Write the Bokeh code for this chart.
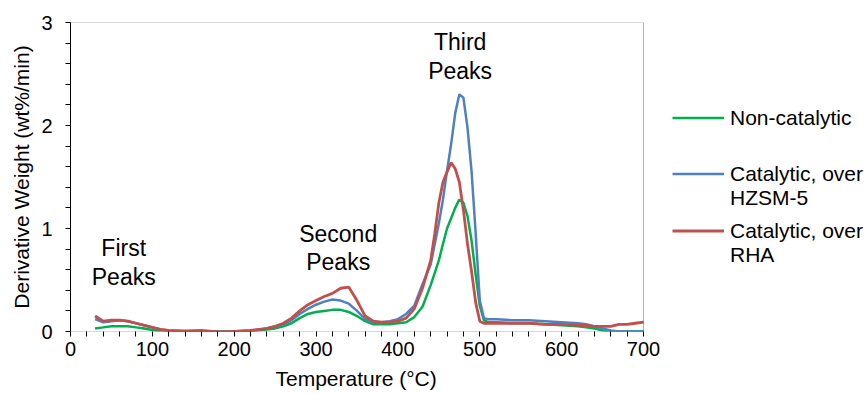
from bokeh.plotting import figure
from bokeh.models import Legend, LegendItem, FixedTicker, Label, Range1d, BoxAnnotation, Title
from bokeh.embed import file_html
from bokeh.resources import INLINE

# ---- data ----
temperature = [30, 40, 50, 60, 70, 80, 90, 100, 110, 120,
               140, 160, 180, 200, 220, 240,
               250, 260, 270, 280, 290, 300, 310, 320, 330, 340,
               350, 360, 370, 380, 390, 400, 410, 420, 430, 440,
               445, 450, 455, 460, 465, 470, 475, 480, 485, 490, 495, 500, 505, 510,
               520, 540, 560, 580, 600, 620,
               630, 640, 650, 660, 670, 680, 690, 700]

non_catalytic = [0.03, 0.04, 0.05, 0.05, 0.05, 0.04, 0.03, 0.015, 0.005, 0.0,
                 0.0, 0.0, 0.0, 0.0, 0.005, 0.02,
                 0.03, 0.05, 0.08, 0.13, 0.17, 0.19, 0.20, 0.21, 0.21, 0.19,
                 0.15, 0.10, 0.07, 0.07, 0.07, 0.08, 0.09, 0.14, 0.24, 0.45,
                 0.57, 0.69, 0.85, 1.00, 1.10, 1.20, 1.28, 1.25, 1.12, 0.88, 0.55, 0.25, 0.11, 0.09,
                 0.09, 0.08, 0.08, 0.07, 0.06, 0.05,
                 0.04, 0.03, 0.01, 0.0, 0.0, 0.0, 0.0, 0.0]

hzsm5 = [0.12, 0.09, 0.10, 0.11, 0.10, 0.08, 0.06, 0.04, 0.02, 0.01,
         0.0, 0.0, 0.0, 0.0, 0.01, 0.03,
         0.05, 0.07, 0.11, 0.17, 0.22, 0.26, 0.29, 0.31, 0.30, 0.27,
         0.20, 0.12, 0.09, 0.09, 0.10, 0.12, 0.17, 0.25, 0.46, 0.65,
         0.85, 1.05, 1.28, 1.56, 1.82, 2.12, 2.30, 2.27, 1.98, 1.55, 0.95, 0.30, 0.13, 0.12,
         0.12, 0.11, 0.11, 0.10, 0.09, 0.08,
         0.07, 0.05, 0.03, 0.01, 0.0, 0.0, 0.0, 0.0]

rha = [0.15, 0.10, 0.11, 0.11, 0.10, 0.08, 0.06, 0.04, 0.02, 0.01,
       0.005, 0.01, -0.005, 0.0, 0.01, 0.03,
       0.05, 0.08, 0.13, 0.20, 0.26, 0.30, 0.34, 0.37, 0.42, 0.43,
       0.30, 0.15, 0.10, 0.09, 0.09, 0.10, 0.13, 0.22, 0.42, 0.69,
       0.95, 1.25, 1.45, 1.55, 1.64, 1.58, 1.45, 1.18, 0.85, 0.58, 0.28, 0.10, 0.08, 0.08,
       0.08, 0.08, 0.08, 0.07, 0.07, 0.06,
       0.06, 0.05, 0.05, 0.05, 0.07, 0.07, 0.08, 0.09]

x_ticks = [0, 100, 200, 300, 400, 500, 600, 700]
y_ticks = [0, 1, 2, 3]
X_MAX, Y_MAX = 700, 3

FONT = "Liberation Sans"
GREEN = "#00B050"
BLUE = "#4F81BD"
RED = "#C0504D"

PLOT_W = 573          # width of the boxed plot area (0..700)
LEGEND_W = 222        # room to the right of the box for the legend
FRAME_W = PLOT_W + LEGEND_W
FRAME_H = 309

p = figure(frame_width=FRAME_W, frame_height=FRAME_H,
           x_range=Range1d(0, X_MAX * FRAME_W / PLOT_W), y_range=Range1d(0, Y_MAX),
           output_backend="svg", toolbar_location=None,
           min_border_left=70, min_border_top=22, min_border_bottom=10,
           min_border_right=0)
p.background_fill_color = "white"
p.border_fill_color = "white"
p.outline_line_color = None
p.xgrid.visible = False
p.ygrid.visible = False

# plot box 0..700 x 0..3
p.add_layout(BoxAnnotation(left=0, right=X_MAX, bottom=0, top=Y_MAX,
                           fill_alpha=0, line_color="black", line_width=1))

x_minor = [v for v in range(0, X_MAX + 1, 20) if v % 100 != 0]
y_minor = [round(v * 0.2, 1) for v in range(0, 16) if v % 5 != 0]
p.xaxis.ticker = FixedTicker(ticks=x_ticks, minor_ticks=x_minor)
p.yaxis.ticker = FixedTicker(ticks=y_ticks, minor_ticks=y_minor)

for ax in (p.xaxis[0], p.yaxis[0]):
    ax.axis_line_color = "black"
    ax.major_tick_line_color = "black"
    ax.minor_tick_line_color = "black"
    ax.major_tick_in = 0
    ax.major_tick_out = 5
    ax.minor_tick_in = 0
    ax.minor_tick_out = 5
    ax.major_label_text_font = FONT
    ax.major_label_text_font_size = "20px"
    ax.major_label_text_color = "black"
    ax.axis_label_text_font = FONT
    ax.axis_label_text_font_size = "21px"
    ax.axis_label_text_font_style = "normal"
    ax.axis_label_text_color = "black"

p.xaxis.axis_line_color = None   # the box's bottom edge is the axis line
p.yaxis.axis_label = "Derivative Weight (wt%/min)"
p.xaxis.major_label_standoff = 5
p.yaxis.major_label_standoff = 13
p.yaxis.axis_label_standoff = 5

# x-axis title, centred under the 0..700 box
p.add_layout(Title(text="Temperature (°C)", align="left", offset=205,
                   text_font=FONT, text_font_size="21px", text_font_style="normal",
                   text_color="black", standoff=13), "below")

r_g = p.line(temperature, non_catalytic, line_color=GREEN, line_width=2.5)
r_b = p.line(temperature, hzsm5, line_color=BLUE, line_width=2.5)
r_r = p.line(temperature, rha, line_color=RED, line_width=2.8)
r_blank = p.line([], [], line_alpha=0)

# annotations
for txt, x, y in [("First", 65, 0.81), ("Peaks", 65, 0.53),
                  ("Second", 327, 0.95), ("Peaks", 327, 0.67),
                  ("Third", 476, 2.81), ("Peaks", 476, 2.53)]:
    p.add_layout(Label(x=x, y=y, text=txt, text_font=FONT, text_font_size="23px",
                       text_align="center", text_baseline="middle", text_color="black"))

def make_legend(items, top_y):
    n = len(items)
    leg = Legend(items=items, location=(602, 331 - top_y - 23 * n),
                 orientation="vertical",
                 padding=0, margin=0, spacing=0,
                 border_line_color=None, background_fill_alpha=0,
                 glyph_width=52, glyph_height=23, label_height=23,
                 label_standoff=6, label_text_font=FONT,
                 label_text_font_size="21px", label_text_color="black")
    p.add_layout(leg, "center")

make_legend([LegendItem(label="Non-catalytic", renderers=[r_g])], 106.5)
make_legend([LegendItem(label="Catalytic, over", renderers=[r_b]),
             LegendItem(label="HZSM-5", renderers=[r_blank])], 163.5)
make_legend([LegendItem(label="Catalytic, over", renderers=[r_r]),
             LegendItem(label="RHA", renderers=[r_blank])], 220.5)

open("out.html", "w").write(file_html(p, INLINE))
